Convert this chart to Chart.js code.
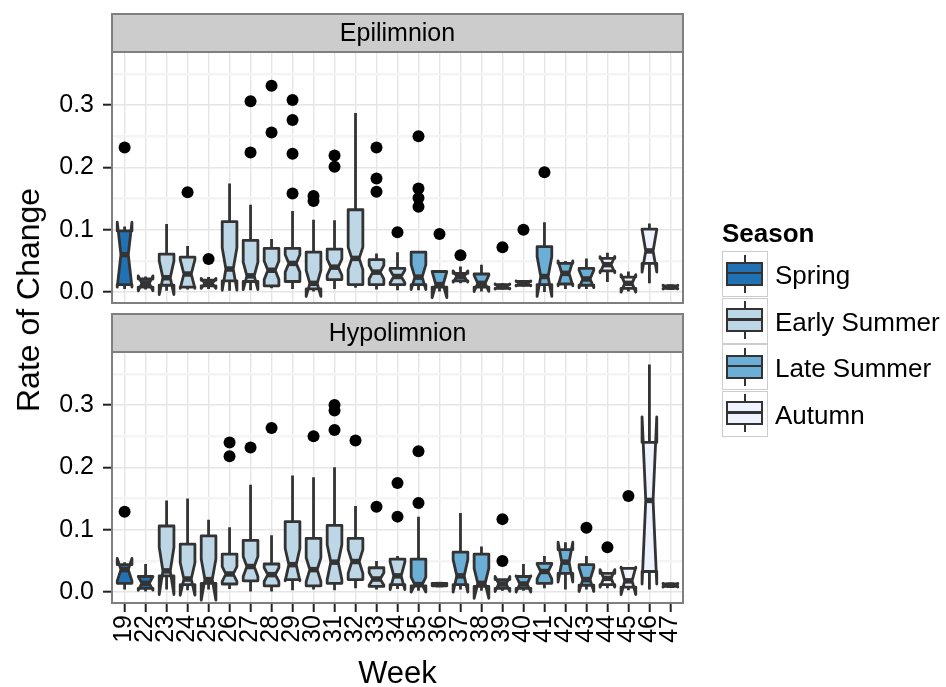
<!DOCTYPE html>
<html>
<head>
<meta charset="utf-8">
<script src="https://cdn.jsdelivr.net/npm/chart.js@4.4.1/dist/chart.umd.min.js"></script>
<style>
  html, body { margin:0; padding:0; background:#fff; }
  #wrap { position:relative; width:946px; height:687px; background:#fff; font-family:'Liberation Sans', Arial, sans-serif; color:#000; }
  canvas { position:absolute; left:0; }
  #ytitle { position:absolute; left:28px; top:300px; transform:translate(-50%,-50%) rotate(-90deg); white-space:nowrap; font-size:32px; line-height:1; }
  #legend-title { position:absolute; left:722px; top:220px; font-size:26px; font-weight:bold; line-height:1; }
  .key { position:absolute; left:722px; width:46px; height:46px; box-sizing:border-box; border:1.5px solid #cccccc; background:#fff; }
  .key .wh { position:absolute; left:20.7px; width:2.8px; background:#333; }
  .key .bx { position:absolute; left:3px; width:37px; top:9.5px; height:24px; box-sizing:border-box; border:2.8px solid #333; }
  .key .md { position:absolute; left:0; right:0; top:8px; height:2.8px; background:#333; }
  .lab { position:absolute; left:775px; font-size:26px; line-height:1; white-space:nowrap; }
</style>
</head>
<body>
<div id="wrap">
  <canvas id="epi" width="946" height="310" style="top:0"></canvas>
  <canvas id="hypo" width="946" height="377" style="top:310px"></canvas>
  <div id="ytitle">Rate of Change</div>
  <div id="legend-title">Season</div>
</div>
<script>
// --- dados ---
const weeks = ['19','22','23','24','25','26','27','28','29','30','31','32','33','34','35','36','37','38','39','40','41','42','43','44','45','46','47'];
const seasons = ['Spring','Spring',
  'Early Summer','Early Summer','Early Summer','Early Summer','Early Summer','Early Summer',
  'Early Summer','Early Summer','Early Summer','Early Summer','Early Summer','Early Summer',
  'Late Summer','Late Summer','Late Summer','Late Summer','Late Summer','Late Summer','Late Summer','Late Summer','Late Summer',
  'Autumn','Autumn','Autumn','Autumn'];
const seasonNames = ['Spring','Early Summer','Late Summer','Autumn'];
const seasonColors = ['#2171b5','#bdd7e7','#6baed6','#eff3ff'];

const yTicks = [0, 0.05, 0.1, 0.15, 0.2, 0.25, 0.3, 0.35];
const yMajor = [0, 0.1, 0.2, 0.3];

// Epilimnion
const epiMin    = [0.005,0.004,0.002,0.004,0.005,0.002,0.003,0.006,0.005,0.001,0.005,0.007,0.004,0.003,0.003,0.001,0.014,0.001,0.004,0.009,0.000,0.005,0.005,0.016,0.001,0.014,0.004];
const epiQ1     = [0.012,0.008,0.011,0.008,0.010,0.018,0.017,0.010,0.017,0.005,0.020,0.012,0.012,0.012,0.012,0.008,0.018,0.008,0.006,0.011,0.012,0.013,0.011,0.034,0.006,0.046,0.006];
const epiMed    = [0.060,0.014,0.023,0.029,0.014,0.037,0.026,0.035,0.046,0.014,0.040,0.054,0.032,0.025,0.024,0.012,0.025,0.014,0.009,0.014,0.025,0.030,0.021,0.044,0.014,0.066,0.008];
const epiQ3     = [0.098,0.021,0.061,0.056,0.019,0.113,0.083,0.070,0.070,0.064,0.069,0.132,0.052,0.038,0.064,0.033,0.030,0.029,0.012,0.017,0.073,0.046,0.038,0.054,0.024,0.101,0.010];
const epiMax    = [0.105,0.025,0.109,0.074,0.024,0.174,0.140,0.085,0.130,0.116,0.115,0.287,0.062,0.064,0.066,0.034,0.041,0.044,0.014,0.019,0.112,0.050,0.054,0.063,0.033,0.110,0.012];
const epiNotchLo= [0.008,0.002,-0.004,0.006,0.006,0.003,0.004,0.020,0.032,-0.007,0.027,0.036,0.021,0.015,0.004,-0.009,0.016,0.001,0.005,0.010,-0.007,0.010,0.007,0.031,0.000,0.032,0.005];
const epiNotchHi= [0.112,0.026,0.050,0.052,0.022,0.071,0.048,0.050,0.060,0.035,0.053,0.072,0.043,0.035,0.044,0.033,0.034,0.027,0.013,0.018,0.057,0.050,0.035,0.057,0.028,0.100,0.011];
const epiOutliers = [[0,.232],[3,.160],[4,.053],[6,.306],[6,.224],[7,.331],[7,.256],[8,.308],[8,.276],[8,.222],[8,.158],
  [9,.154],[9,.146],[10,.219],[10,.201],[12,.232],[12,.182],[12,.161],[13,.096],[14,.250],[14,.166],[14,.151],[14,.137],
  [15,.093],[16,.059],[18,.072],[19,.100],[20,.192]];

// Hypolimnion
const hypMin    = [0.004,0.001,0.004,0.003,0.004,0.005,0.001,0.001,0.003,0.004,0.003,0.006,0.004,0.005,0.002,0.009,0.004,0.002,0.002,0.002,0.006,0.004,0.004,0.006,0.003,0.004,0.007];
const hypQ1     = [0.014,0.006,0.026,0.012,0.014,0.013,0.018,0.010,0.020,0.010,0.014,0.020,0.009,0.012,0.010,0.010,0.012,0.009,0.006,0.006,0.014,0.030,0.011,0.012,0.008,0.033,0.009];
const hypMed    = [0.036,0.014,0.034,0.021,0.020,0.029,0.041,0.028,0.044,0.036,0.048,0.049,0.021,0.026,0.012,0.012,0.026,0.014,0.013,0.013,0.033,0.048,0.020,0.022,0.018,0.147,0.011];
const hypQ3     = [0.044,0.025,0.106,0.077,0.090,0.061,0.083,0.045,0.113,0.086,0.107,0.086,0.039,0.053,0.053,0.014,0.064,0.061,0.020,0.025,0.046,0.068,0.044,0.030,0.038,0.240,0.013];
const hypMax    = [0.048,0.045,0.147,0.150,0.116,0.104,0.172,0.091,0.187,0.184,0.200,0.138,0.050,0.058,0.121,0.016,0.127,0.073,0.020,0.045,0.058,0.080,0.058,0.031,0.038,0.365,0.015];
const hypNotchLo= [0.018,0.003,-0.004,-0.005,-0.013,0.017,0.025,0.017,0.018,0.017,0.020,0.030,0.011,0.004,0.000,0.011,0.000,-0.010,0.001,0.000,0.021,0.016,0.001,0.008,-0.004,0.013,0.008];
const hypNotchHi= [0.054,0.025,0.072,0.047,0.053,0.041,0.057,0.039,0.070,0.055,0.076,0.068,0.031,0.048,0.024,0.013,0.052,0.038,0.025,0.026,0.045,0.080,0.039,0.036,0.040,0.281,0.014];
const hypOutliers = [[0,.129],[5,.240],[5,.218],[6,.232],[7,.263],[9,.250],[10,.300],[10,.291],[10,.260],[11,.243],
  [12,.137],[13,.175],[13,.121],[14,.226],[14,.143],[18,.117],[18,.050],[22,.103],[23,.072],[24,.154]];

// --- estilo ---
const FONT = "'Liberation Sans', Arial, sans-serif";
const BOX_W = 0.7;          // largura da caixa em unidades de categoria
const LINE = '#333333';
const FRAME = '#7f7f7f';
Chart.defaults.font.family = FONT;
Chart.defaults.font.size = 25;
Chart.defaults.color = '#000';

function colorOf(i){ return seasonColors[seasonNames.indexOf(seasons[i])]; }

// caixas com entalhe (estilo ggplot, notch=TRUE)
const notchedBoxes = {
  id: 'notchedBoxes',
  beforeDatasetsDraw(chart, args, opts){
    const f = opts.facet; if (!f) return;
    const {ctx, chartArea:a, scales:{x, y}} = chart;
    const py = v => y.getPixelForValue(v);
    ctx.save();
    ctx.beginPath(); ctx.rect(a.left, a.top, a.right - a.left, a.bottom - a.top); ctx.clip();
    ctx.strokeStyle = LINE; ctx.lineJoin = 'round'; ctx.lineCap = 'butt';
    for (let i = 0; i < weeks.length; i++){
      const xc = x.getPixelForValue(i);
      const x0 = x.getPixelForValue(i - BOX_W/2), x1 = x.getPixelForValue(i + BOX_W/2);
      const ind = (x1 - x0) * 0.25;
      // bigodes
      ctx.lineWidth = 2.8;
      ctx.beginPath();
      ctx.moveTo(xc, py(f.q3[i])); ctx.lineTo(xc, py(f.max[i]));
      ctx.moveTo(xc, py(f.q1[i])); ctx.lineTo(xc, py(f.min[i]));
      ctx.stroke();
      // caixa
      ctx.beginPath();
      ctx.moveTo(x0, py(f.q3[i]));
      ctx.lineTo(x0, py(f.nHi[i]));
      ctx.lineTo(x0 + ind, py(f.med[i]));
      ctx.lineTo(x0, py(f.nLo[i]));
      ctx.lineTo(x0, py(f.q1[i]));
      ctx.lineTo(x1, py(f.q1[i]));
      ctx.lineTo(x1, py(f.nLo[i]));
      ctx.lineTo(x1 - ind, py(f.med[i]));
      ctx.lineTo(x1, py(f.nHi[i]));
      ctx.lineTo(x1, py(f.q3[i]));
      ctx.closePath();
      ctx.fillStyle = colorOf(i);
      ctx.fill(); ctx.stroke();
      // mediana
      ctx.lineWidth = 5.5;
      ctx.beginPath();
      ctx.moveTo(x0 + ind, py(f.med[i])); ctx.lineTo(x1 - ind, py(f.med[i]));
      ctx.stroke();
    }
    ctx.restore();
  }
};

// faixa (strip) + moldura do painel
const panelFrame = {
  id: 'panelFrame',
  afterDraw(chart, args, opts){
    const {ctx, chartArea:a} = chart;
    ctx.save();
    ctx.lineWidth = 2; ctx.strokeStyle = FRAME;
    ctx.strokeRect(a.left, a.top, a.right - a.left, a.bottom - a.top);
    const h = 38;
    ctx.fillStyle = '#cccccc';
    ctx.fillRect(a.left, a.top - h, a.right - a.left, h);
    ctx.strokeRect(a.left, a.top - h, a.right - a.left, h);
    ctx.fillStyle = '#000'; ctx.font = '25px ' + FONT;
    ctx.textAlign = 'center'; ctx.textBaseline = 'middle';
    ctx.fillText(opts.label || '', (a.left + a.right)/2, a.top - h/2 + 1);
    ctx.restore();
  }
};

function makeChart(id, label, facet, outliers, bottom){
  const ctx = document.getElementById(id).getContext('2d');
  return new Chart(ctx, {
    type: 'scatter',
    data: { datasets: [{
      data: outliers.map(o => ({x:o[0], y:o[1]})),
      pointRadius: 6, pointHoverRadius: 6, pointBackgroundColor: '#000', pointBorderWidth: 0
    }]},
    options: {
      responsive: false, animation: false, events: [],
      layout: { padding: { left: 0, right: 263, top: bottom ? 42 : 52, bottom: bottom ? 0 : 7 } },
      plugins: {
        legend: { display: false }, tooltip: { enabled: false },
        notchedBoxes: { facet }, panelFrame: { label }
      },
      scales: {
        x: {
          type: 'linear', min: -0.6, max: 26.6,
          afterBuildTicks: s => { s.ticks = weeks.map((w, i) => ({value: i})); },
          afterFit: s => { s.height = bottom ? 84 : 0; s.paddingLeft = 0; s.paddingRight = 0; },
          grid: { color: '#e5e5e5', lineWidth: 1.4, drawTicks: bottom, tickLength: 9, tickColor: '#222', tickWidth: 2 },
          border: { display: false },
          ticks: { display: bottom, autoSkip: false, minRotation: 90, maxRotation: 90, padding: 3,
                   callback: v => weeks[v] ?? '' },
          title: { display: bottom, text: 'Week', font: { size: 31, lineHeight: 0.8 }, padding: 0, color: '#000' }
        },
        y: {
          min: -0.0175, max: 0.385,
          afterBuildTicks: s => { s.ticks = yTicks.map(v => ({value: v})); },
          afterFit: s => { s.width = 112; s.paddingTop = 0; s.paddingBottom = 0; },
          grid: {
            color: c => yMajor.includes(c.tick.value) ? '#e5e5e5' : '#f4f4f4',
            lineWidth: c => yMajor.includes(c.tick.value) ? 1.4 : 2.5,
            tickColor: c => yMajor.includes(c.tick.value) ? '#222' : 'rgba(0,0,0,0)',
            tickLength: 9, tickWidth: 2
          },
          border: { display: false },
          ticks: { padding: 9, callback: v => yMajor.includes(v) ? v.toFixed(1) : '' }
        }
      }
    },
    plugins: [notchedBoxes, panelFrame]
  });
}

makeChart('epi', 'Epilimnion',
  { min: epiMin, q1: epiQ1, med: epiMed, q3: epiQ3, max: epiMax, nLo: epiNotchLo, nHi: epiNotchHi },
  epiOutliers, false);
makeChart('hypo', 'Hypolimnion',
  { min: hypMin, q1: hypQ1, med: hypMed, q3: hypQ3, max: hypMax, nLo: hypNotchLo, nHi: hypNotchHi },
  hypOutliers, true);

// legenda (HTML)
const wrap = document.getElementById('wrap');
seasonNames.forEach((name, k) => {
  const top = 251 + 46.5 * k;
  const key = document.createElement('div');
  key.className = 'key'; key.style.top = top + 'px';
  key.innerHTML = '<div class="wh" style="top:2.5px;height:38px"></div>' +
    '<div class="bx" style="background:' + seasonColors[k] + '"><div class="md"></div></div>';
  wrap.appendChild(key);
  const lab = document.createElement('div');
  lab.className = 'lab'; lab.textContent = name;
  lab.style.top = (top + 23 - 13 + 1) + 'px';
  wrap.appendChild(lab);
});
</script>
</body>
</html>
